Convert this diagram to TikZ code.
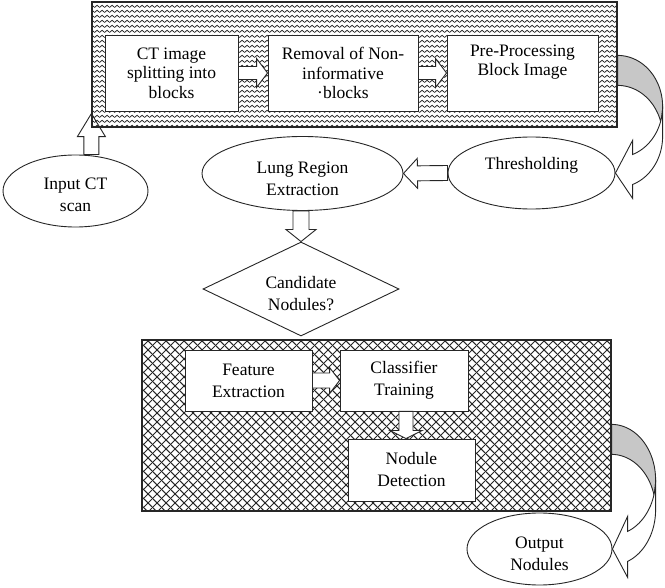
\documentclass[tikz,border=0pt]{standalone}
\usepackage{fontspec}
\setmainfont{Liberation Serif}
\usetikzlibrary{shapes.geometric,calc,patterns}
\pgfdeclarelayer{bg}
\pgfsetlayers{bg,main}
\pgfdeclarepatternformonly{zigzagrows}{\pgfpoint{0pt}{0pt}}{\pgfpoint{5pt}{4.6pt}}{\pgfpoint{5pt}{4.6pt}}{%
  \pgfsetlinewidth{0.85pt}%
  \pgfpathmoveto{\pgfpoint{-0.6pt}{0.5pt}}%
  \pgfpathlineto{\pgfpoint{2.5pt}{3.0pt}}%
  \pgfpathlineto{\pgfpoint{5.6pt}{0.5pt}}%
  \pgfusepath{stroke}}
\pgfdeclarepatternformonly{diagcross}{\pgfpoint{0pt}{0pt}}{\pgfpoint{9pt}{9pt}}{\pgfpoint{9pt}{9pt}}{%
  \pgfsetlinewidth{1.1pt}%
  \pgfpathmoveto{\pgfpoint{-1pt}{-1pt}}\pgfpathlineto{\pgfpoint{10pt}{10pt}}%
  \pgfpathmoveto{\pgfpoint{-1pt}{10pt}}\pgfpathlineto{\pgfpoint{10pt}{-1pt}}%
  \pgfusepath{stroke}}
\definecolor{ink}{gray}{0.15}
\definecolor{backgray}{gray}{0.78}
\newcommand{\blockarrow}[5]{%
  \coordinate (bahead) at ($(#2)!#5!(#1)$);
  \filldraw[blkarrow] ($(#1)!#3!90:(#2)$) -- ($(bahead)!#3!90:(#2)$) -- ($(bahead)!#4!90:(#2)$) -- (#2) -- ($(bahead)!#4!-90:(#2)$) -- ($(bahead)!#3!-90:(#2)$) -- ($(#1)!#3!-90:(#2)$) -- cycle;}
\tikzset{
  txtA/.style={font=\fontsize{17.5}{19.5}\selectfont},
  txtB/.style={font=\fontsize{17.5}{22}\selectfont},
  box/.style={draw=ink, line width=0.9pt, fill=white, rectangle, inner sep=0pt, align=center},
  oval/.style={draw=ink, line width=0.9pt, fill=white, ellipse, inner sep=0pt, align=center, txtB},
  decision/.style={draw=ink, line width=0.9pt, fill=white, diamond, aspect=2, inner sep=0pt, align=center, txtB},
  panelzz/.style={draw=ink, line width=1.2pt, rectangle, inner sep=0pt, pattern=zigzagrows, pattern color=ink},
  panelxx/.style={draw=ink, line width=1.2pt, rectangle, inner sep=0pt, pattern=diagcross, pattern color=ink},
  blkarrow/.style={draw=ink, line width=0.9pt, fill=white, line join=miter},
  backface/.style={draw=ink, line width=0.9pt, fill=backgray},
  frontface/.style={draw=ink, line width=0.9pt, fill=white, line join=miter},
}
\begin{document}
\begin{tikzpicture}[x=1pt,y=-1pt]
\useasboundingbox (0,0) rectangle (665,588);

% top panel
\node[panelzz, minimum width=525pt, minimum height=125pt] (tb) at (354.5,64.5) {};
\node[box, txtA, minimum width=133pt, minimum height=76pt] (b1) at (171.5,73) {CT image\\splitting into\\blocks};
\node[box, txtA, minimum width=150pt, minimum height=76pt] (b2) at (343,73) {Removal of Non-\\informative\\·blocks};
\node[box, txtA, minimum width=151pt, minimum height=76pt] (b3) at (522.5,73) {Pre-Processing\\Block Image\\\strut};

% ellipses and decision
\node[oval, minimum width=145pt, minimum height=72pt] (inp) at (75.5,191) {\rule{0pt}{20pt}Input CT\\scan};
\node[oval, minimum width=201pt, minimum height=74pt] (lung) at (302.5,173.5) {\rule{0pt}{22pt}Lung Region\\Extraction};
\node[oval, minimum width=167pt, minimum height=72pt] (thr) at (531.5,173) {\rule{0pt}{16pt}Thresholding\\\mbox{}};
\node[decision, minimum width=196pt, minimum height=94pt] (dia) at (301,289) {\rule{0pt}{21pt}Candidate\\Nodules?};

% bottom panel
\node[panelxx, minimum width=469pt, minimum height=171pt] (bb) at (376.5,425.5) {};
\node[box, txtB, minimum width=127pt, minimum height=61pt] (fe) at (248.5,380.5) {Feature\\Extraction};
\node[box, txtB, minimum width=128pt, minimum height=61pt] (ct) at (404,380.5) {Classifier\\Training};
\node[box, txtB, minimum width=127pt, minimum height=62pt] (nd) at (411.5,470) {Nodule\\Detection};
\node[oval, minimum width=145pt, minimum height=72pt] (out) at (539.5,549) {\rule{0pt}{21pt}Output\\Nodules};

% block arrows
\begin{pgfonlayer}{bg}
  \coordinate (ia) at (inp.north -| tb.south west);
  \coordinate (itip) at ($(tb.south west)+(0,-14)$);
  \blockarrow{ia}{itip}{7.5pt}{14pt}{23pt}
\end{pgfonlayer}
\blockarrow{b1.east}{b2.west}{6.5pt}{14.5pt}{11pt}
\blockarrow{b2.east}{b3.west}{6.5pt}{14.5pt}{11pt}
\blockarrow{thr.west}{lung.east}{7.5pt}{15pt}{14pt}
\coordinate (ls) at (lung.south -| dia.north);
\blockarrow{ls}{dia.north}{8pt}{15pt}{12pt}
\blockarrow{fe.east}{ct.west}{7.5pt}{13pt}{10pt}
\coordinate (cs) at ($(ct.south)+(2,0)$);
\coordinate (ndt) at (cs |- nd.north);
\blockarrow{cs}{ndt}{7pt}{16pt}{8pt}

% curved arrow: top panel -> Thresholding
\begin{scope}[shift={(tb.north east)}]
  \filldraw[backface] plot[domain=-90:17.1,samples=60,variable=\t] ({45*cos(\t)},{105+51*sin(\t)})
    -- plot[domain=-17.1:-90,samples=60,variable=\t] ({45*cos(\t)},{135+51*sin(\t)}) -- cycle;
  \filldraw[frontface] plot[domain=70.5:0,samples=60,variable=\t] ({45*cos(\t)},{105+51*sin(\t)})
    -- plot[domain=0:70.5,samples=60,variable=\t] ({45*cos(\t)},{135+51*sin(\t)})
    -- (15,197) -- (thr.east) -- (15,139) -- cycle;
\end{scope}

% curved arrow: bottom panel -> Output Nodules
\begin{scope}[shift={(bb.north east)}]
  \filldraw[backface] plot[domain=-90:15.7,samples=60,variable=\t] ({44*cos(\t)},{140.4+55.4*sin(\t)})
    -- plot[domain=-15.7:-90,samples=60,variable=\t] ({44*cos(\t)},{170.4+55.4*sin(\t)}) -- cycle;
  \filldraw[frontface] plot[domain=68.7:0,samples=60,variable=\t] ({44*cos(\t)},{140.4+55.4*sin(\t)})
    -- plot[domain=0:68.7,samples=60,variable=\t] ({44*cos(\t)},{170.4+55.4*sin(\t)})
    -- (16,238) -- (out.east) -- (16,177) -- cycle;
\end{scope}
\end{tikzpicture}
\end{document}
